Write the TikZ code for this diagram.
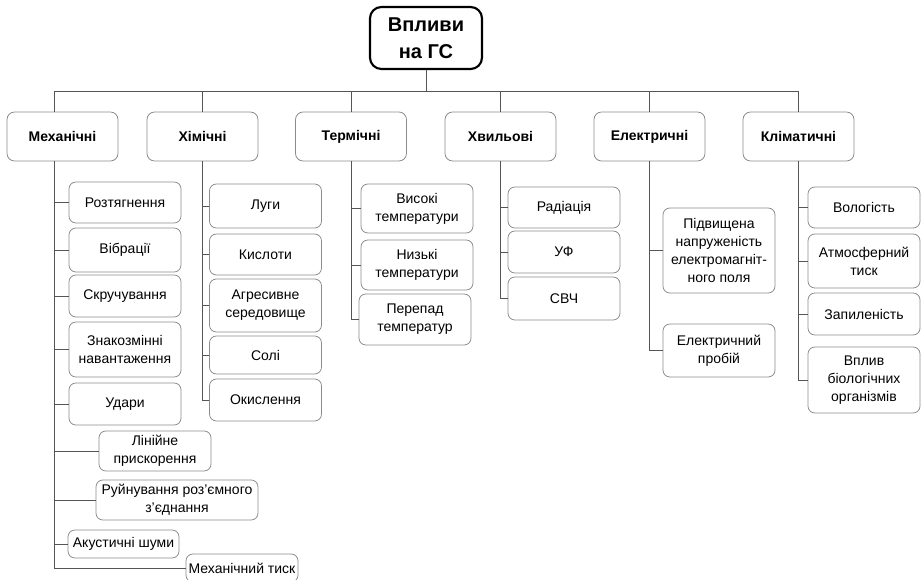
\documentclass[tikz,border=0pt]{standalone}
\usepackage{fontspec}
\setmainfont{Liberation Sans}
\usepackage{tikz}
\usetikzlibrary{positioning,calc}
\definecolor{FrameGrey}{HTML}{8C8C8C}
\definecolor{LinkGrey}{HTML}{555555}
\tikzset{
  rootbox/.style={draw=black,line width=1.6pt,rounded corners=3mm,align=center,font=\bfseries\fontsize{15}{20}\selectfont,minimum width=84pt,minimum height=46.5pt,inner sep=2pt},
  catbox/.style={draw=FrameGrey,line width=0.6pt,rounded corners=2mm,align=center,font=\bfseries\fontsize{10.5}{13}\selectfont,minimum width=83.25pt,minimum height=36.75pt,inner sep=1pt},
  itembox/.style={draw=FrameGrey,line width=0.6pt,rounded corners=1.8mm,align=center,font=\fontsize{10.5}{13.5}\selectfont,minimum width=84pt,inner sep=1pt},
  boxh/.style={minimum height=#1*0.75pt},
  boxw/.style={minimum width=#1*0.75pt},
  link/.style={draw=LinkGrey,line width=0.6pt}
}
\begin{document}
\begin{tikzpicture}[x=0.75pt,y=-0.75pt]
\useasboundingbox (0,0) rectangle (921,580);
\clip (0,0) rectangle (921,580);
% root and categories
\node[rootbox] (root) at (426,38) {Впливи\\на ГС};
\node[catbox] (mech)  at (62.5,136.5)  {Механічні};
\node[catbox] (chem)  at (202.5,136.5) {Хімічні};
\node[catbox] (therm) at (351,136.5)   {Термічні};
\node[catbox] (wave)  at (500.5,136.5) {Хвильові};
\node[catbox] (elec)  at (649.5,136.5) {Електричні};
\node[catbox] (clim)  at (798.5,136.5) {Кліматичні};
% mechanical
\node[itembox,boxh=41] (m1) at (125,202.5) {Розтягнення};
\node[itembox,boxh=44] (m2) at (125,250)   {Вібрації};
\node[itembox,boxh=42] (m3) at (125,296)   {Скручування};
\node[itembox,boxh=55] (m4) at (125,349.5) {Знакозмінні\\навантаження};
\node[itembox,boxh=42] (m5) at (125,404)   {Удари};
\node[itembox,boxh=40] (m6) at (155,451)   {Лінійне\\прискорення};
\node[itembox,boxh=40,boxw=162] (m7) at (177,500) {Руйнування роз’ємного\\з’єднання};
\node[itembox,boxh=28,boxw=111] (m8) at (123.5,544) {Акустичні шуми};
\node[itembox,boxh=28] (m9) at (242,568) {Механічний тиск};
% chemical
\node[itembox,boxh=44] (c1) at (265.5,206)   {Луги};
\node[itembox,boxh=41] (c2) at (265.5,254.5) {Кислоти};
\node[itembox,boxh=53] (c3) at (265.5,305.5) {Агресивне\\середовище};
\node[itembox,boxh=38] (c4) at (265.5,355)   {Солі};
\node[itembox,boxh=42] (c5) at (265.5,400)   {Окислення};
% thermal
\node[itembox,boxh=49] (t1) at (417,208.5) {Високі\\температури};
\node[itembox,boxh=50] (t2) at (417,265)   {Низькі\\температури};
\node[itembox,boxh=51] (t3) at (415,319.5) {Перепад\\температур};
% wave
\node[itembox,boxh=41] (w1) at (564,207.5) {Радіація};
\node[itembox,boxh=42] (w2) at (564,252)   {УФ};
\node[itembox,boxh=43] (w3) at (564,298.5) {СВЧ};
% electric
\node[itembox,boxh=85] (e1) at (719,250.5) {Підвищена\\напруженість\\електромагніт-\\ного поля};
\node[itembox,boxh=53] (e2) at (719,350.5) {Електричний\\пробій};
% climatic
\node[itembox,boxh=41] (k1) at (864,207.5) {Вологість};
\node[itembox,boxh=54] (k2) at (864,261)   {Атмосферний\\тиск};
\node[itembox,boxh=42] (k3) at (864,314)   {Запиленість};
\node[itembox,boxh=66] (k4) at (864,380)   {Вплив\\біологічних\\організмів};
% bus
\coordinate (busl) at (54,91);
\draw[link] (busl) -- (busl -| clim.north);
\draw[link] (root.south) -- (root.south |- busl);
\draw[link] (busl) -- (busl |- mech.north);
\foreach \c in {chem,therm,wave,elec,clim}{\draw[link] (\c.north) -- (\c.north |- busl);}
% trunks
\draw[link] (busl |- mech.south) |- (m9.west);
\foreach \i in {m1,m2,m3,m4,m5,m6,m7,m8}{\draw[link] (\i.west) -- (\i.west -| busl);}
\draw[link] (chem.south) |- (c5.west);
\foreach \i in {c1,c2,c3,c4}{\draw[link] (\i.west) -- (\i.west -| chem.south);}
\draw[link] (therm.south) |- (t3.west);
\foreach \i in {t1,t2}{\draw[link] (\i.west) -- (\i.west -| therm.south);}
\draw[link] (wave.south) |- (w3.west);
\foreach \i in {w1,w2}{\draw[link] (\i.west) -- (\i.west -| wave.south);}
\draw[link] (elec.south) |- (e2.west);
\draw[link] (e1.west) -- (e1.west -| elec.south);
\draw[link] (clim.south) |- (k4.west);
\foreach \i in {k1,k2,k3}{\draw[link] (\i.west) -- (\i.west -| clim.south);}
\end{tikzpicture}
\end{document}
